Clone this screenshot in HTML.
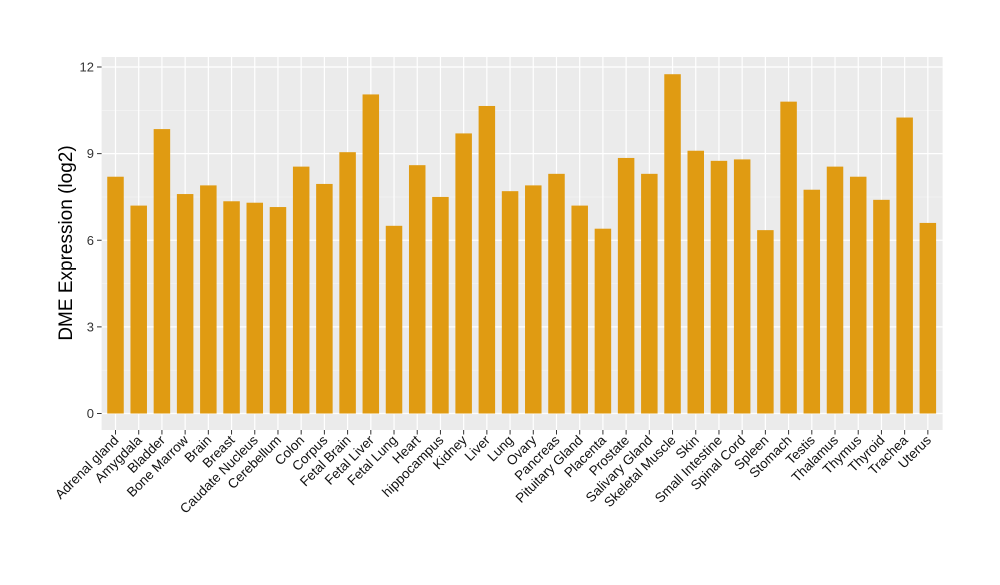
<!DOCTYPE html>
<html><head><meta charset="utf-8"><style>
body{margin:0;background:#fff;}
svg text{font-family:"Liberation Sans",Arial,sans-serif;}
</style></head><body>
<svg id="chart" width="1000" height="580" xmlns="http://www.w3.org/2000/svg">
<rect x="101.6" y="57" width="841" height="373" fill="#ebebeb"/>
<g id="grid"></g><g id="bars"></g><g id="axes"></g>
<text transform="translate(72,243) rotate(-90)" text-anchor="middle" font-size="19" fill="#000">DME Expression (log2)</text>
</svg>
<script>
const categories=["Adrenal gland","Amygdala","Bladder","Bone Marrow","Brain","Breast","Caudate Nucleus","Cerebellum","Colon","Corpus","Fetal Brain","Fetal Liver","Fetal Lung","Heart","hippocampus","Kidney","Liver","Lung","Ovary","Pancreas","Pituitary Gland","Placenta","Prostate","Salivary Gland","Skeletal Muscle","Skin","Small Intestine","Spinal Cord","Spleen","Stomach","Testis","Thalamus","Thymus","Thyroid","Trachea","Uterus"];
const values=[8.2,7.2,9.85,7.6,7.9,7.35,7.3,7.15,8.55,7.95,9.05,11.05,6.5,8.6,7.5,9.7,10.65,7.7,7.9,8.3,7.2,6.4,8.85,8.3,11.75,9.1,8.75,8.8,6.35,10.8,7.75,8.55,8.2,7.4,10.25,6.6];
const yTicks=[0,3,6,9,12];
const NS="http://www.w3.org/2000/svg";
const x0=115.5,step=23.21,bw=16.5;
const xPos=i=>x0+i*step;
const yPos=v=>413.5-v*(346.5/12);
function mk(t,a,p){const e=document.createElementNS(NS,t);for(const k in a)e.setAttribute(k,a[k]);p.appendChild(e);return e;}
const grid=document.getElementById('grid'),bars=document.getElementById('bars'),axes=document.getElementById('axes');
for(let v=1.5;v<13.5;v+=3){const l=mk('line',{x1:101.6,x2:942.6,y1:yPos(v),y2:yPos(v),stroke:'#f5f5f5','stroke-width':0.6},grid);

}
yTicks.forEach(v=>{const l=mk('line',{x1:101.6,x2:942.6,y1:yPos(v),y2:yPos(v),stroke:'#fff','stroke-width':1.2},grid);


const tk=mk('line',{x1:97,x2:101.6,y1:yPos(v),y2:yPos(v),stroke:'#333'},axes);


const t=mk('text',{x:94,y:yPos(v)+4.5,'text-anchor':'end','font-size':13,fill:'#333'},axes);t.textContent=v;

});
categories.forEach((c,i)=>{const x=xPos(i);
const g=mk('line',{x1:x,x2:x,y1:57,y2:430,stroke:'#fff','stroke-width':1.2},grid);


const r=mk('rect',{x:x-bw/2,y:yPos(values[i]),width:bw,height:yPos(0)-yPos(values[i]),fill:'#e09b12'},bars);


const tk=mk('line',{x1:x,x2:x,y1:430,y2:434.5,stroke:'#333'},axes);


const t=mk('text',{transform:`translate(${x+4},${441}) rotate(-45)`,'text-anchor':'end','font-size':13.5,fill:'#111'},axes);t.textContent=c;

});
</script>
</body></html>
